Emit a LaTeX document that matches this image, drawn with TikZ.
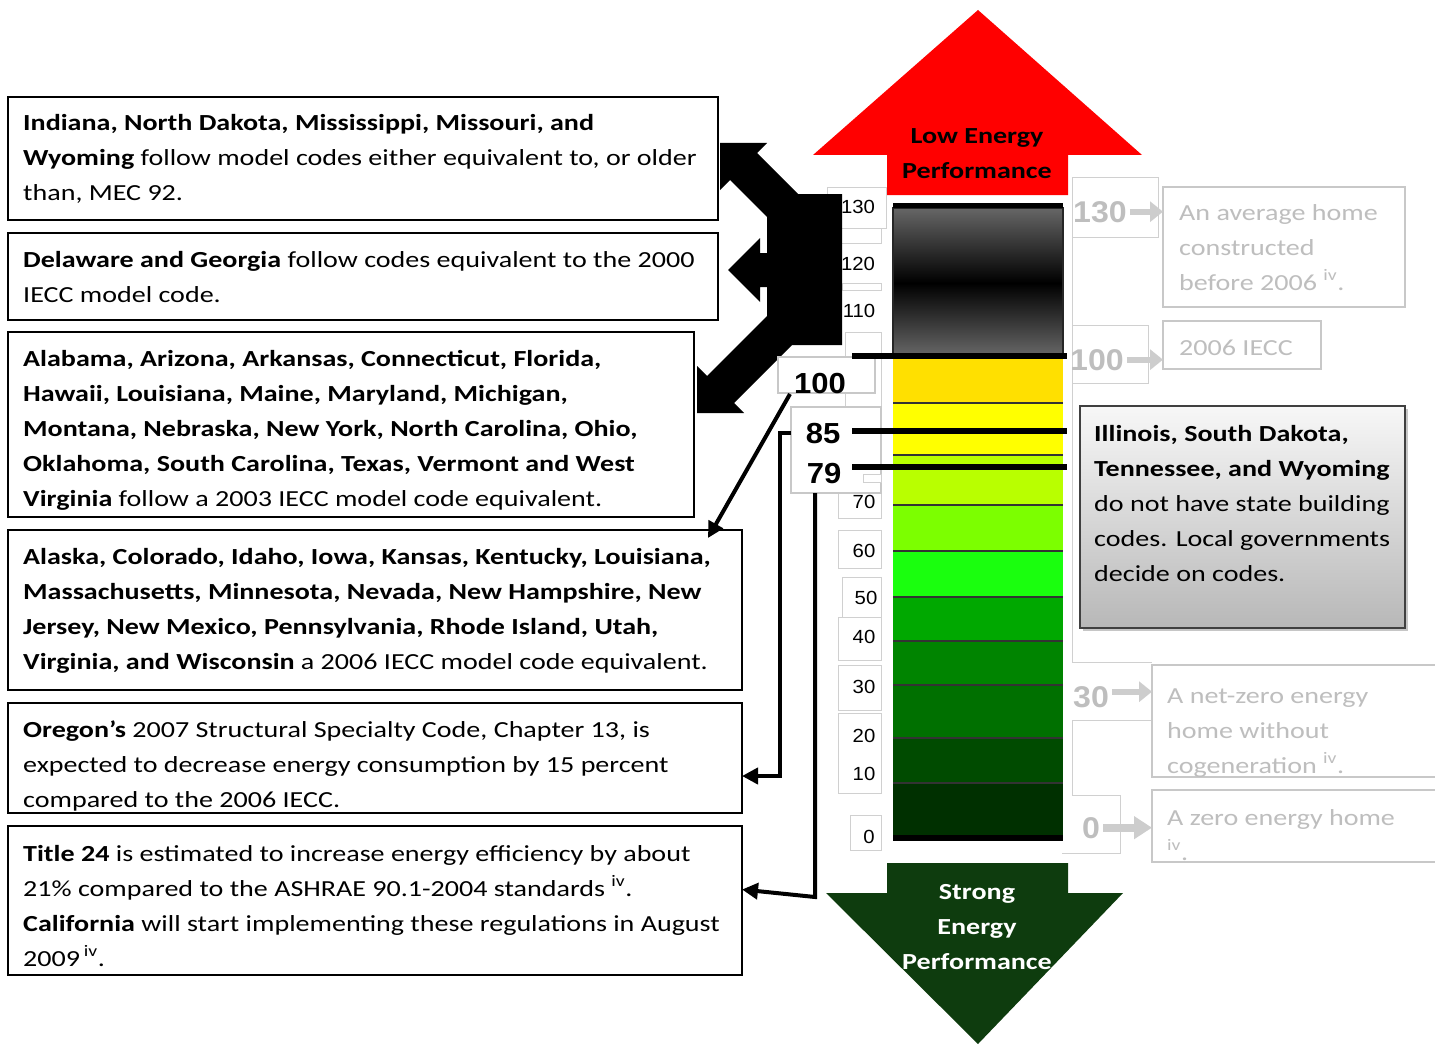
\documentclass[tikz,border=0pt]{standalone}
\usepackage{fontspec}
\setmainfont{Carlito}[FakeStretch=1.22]
\newfontfamily\arialf{Liberation Sans}[FakeStretch=1.07]
\usetikzlibrary{arrows.meta,shadows}
\definecolor{lgray}{RGB}{200,200,200}
\definecolor{olgray}{RGB}{208,208,208}
\definecolor{tgray}{RGB}{190,190,190}
\definecolor{garrowc}{RGB}{205,205,205}
\definecolor{bgold}{RGB}{255,224,0}
\definecolor{byel}{RGB}{255,255,0}
\definecolor{byg}{RGB}{185,255,0}
\definecolor{blime}{RGB}{124,255,0}
\definecolor{bbright}{RGB}{26,255,14}
\definecolor{bga}{RGB}{0,168,0}
\definecolor{bgb}{RGB}{0,132,0}
\definecolor{bgc}{RGB}{0,112,0}
\definecolor{bgd}{RGB}{0,75,0}
\definecolor{bge}{RGB}{0,48,0}
\definecolor{darkgr}{RGB}{14,60,14}
\newcommand{\bodyf}{\fontsize{23}{35}\selectfont}
\tikzset{
  box/.style={draw=black, line width=2.5pt, fill=white, inner sep=0pt, outer sep=0pt, anchor=north west, rectangle},
  txt/.style={anchor=base west, inner sep=0pt, font=\bodyf},
  gbox/.style={draw=lgray, line width=1.2pt, fill=white, inner sep=0pt, outer sep=0pt, anchor=north west, rectangle},
  gtxt/.style={txt, text=tgray},
  scalenum/.style={anchor=base, inner sep=0pt, font=\arialf\fontsize{19}{19}\selectfont},
  bignum/.style={anchor=base, inner sep=0pt, font=\arialf\bfseries\fontsize{29}{29}\selectfont},
  gnum/.style={anchor=base, inner sep=0pt, font=\arialf\bfseries\fontsize{30}{30}\selectfont, text=tgray},
  outl/.style={draw=olgray, line width=1pt},
  conn/.style={line width=4pt, -{Triangle[length=16pt,width=16pt]}},
  garrow/.style={draw=garrowc, line width=6pt, -{Triangle[length=13pt,width=20pt]}},
  levelline/.style={line width=6pt, black},
  sep/.style={line width=1.2pt, black!80}
}
\begin{document}
\begin{tikzpicture}[x=1pt,y=-1pt]
\useasboundingbox (0,0) rectangle (1435,1046);

% --- light gray text-box outlines behind the scale ---
\draw[outl, fill=white] (827,187) rectangle (886,228);
\draw[outl] (832,228) rectangle (881,243);
\draw[outl] (842,283) rectangle (881,290);
\draw[outl] (845,332) rectangle (881,407);
\draw[outl] (838,480) rectangle (881,518);
\draw[outl] (838,530) rectangle (881,568);
\draw[outl] (842,577) rectangle (881,617);
\draw[outl] (838,617) rectangle (881,660);
\draw[outl] (838,665) rectangle (881,710);
\draw[outl] (838,713) rectangle (881,793);
\draw[outl] (850,815) rectangle (881,850);
% right side outlines
\draw[outl] (1072,177) rectangle (1158,237);
\draw[outl] (1072,237) -- (1072,325);
\draw[outl] (1072,325) rectangle (1148,383);
\draw[outl] (1072,383) -- (1072,662) -- (1152,662);
\draw[outl] (1152,720) -- (1072,720) -- (1072,795) -- (1120,795) -- (1120,853) -- (1062,853);

% --- black block with three arrows ---
\fill[black] (720,143) -- (767,143) -- (757,153) -- (798,194) -- (842,194) -- (842,345)
  -- (792,345) -- (734,403) -- (744,413) -- (697,413) -- (697,366) -- (707,376) -- (767,316)
  -- (767,287) -- (760,287) -- (760,302) -- (728,270) -- (760,238) -- (760,253) -- (767,253)
  -- (767,217) -- (730,180) -- (720,190) -- cycle;

% --- label boxes left of the bar ---
\node[gbox, minimum width=97pt, minimum height=36pt] (lb100) at (778,357) {};
\node[gbox, minimum width=90pt, minimum height=86pt] (lb85) at (791,407) {};
\draw[outl, fill=white] (863,474) rectangle (881,482);
\node[bignum] (n100) at (820,393) {100};
\node[bignum] (n85) at (823,443) {85};
\node[bignum] (n79) at (824,483) {79};

% --- scale numbers ---
\node[scalenum] (s130) at (858,213) {130};
\node[scalenum] (s120) at (858,270) {120};
\node[scalenum] (s110) at (859,317) {110};
\node[scalenum] (s70) at (864,508) {70};
\node[scalenum] (s60) at (864,557) {60};
\node[scalenum] (s50) at (866,604) {50};
\node[scalenum] (s40) at (864,643) {40};
\node[scalenum] (s30) at (864,693) {30};
\node[scalenum] (s20) at (864,742) {20};
\node[scalenum] (s10) at (864,780) {10};
\node[scalenum] (s0) at (869,843) {0};

% --- the bar ---
\shade[top color=black!60, bottom color=black] (893,208) rectangle (1063,283);
\shade[top color=black, bottom color=black!60] (893,283) rectangle (1063,355);
\draw[black!85, line width=1.5pt] (893,208) rectangle (1063,355);
\fill[bgold] (893,358) rectangle (1063,403);
\fill[byel] (893,403) rectangle (1063,455);
\fill[byg] (893,455) rectangle (1063,505);
\fill[blime] (893,505) rectangle (1063,551);
\fill[bbright] (893,551) rectangle (1063,597);
\fill[bga] (893,597) rectangle (1063,641);
\fill[bgb] (893,641) rectangle (1063,685);
\fill[bgc] (893,685) rectangle (1063,738);
\fill[bgd] (893,738) rectangle (1063,783);
\fill[bge] (893,783) rectangle (1063,836);
\foreach \yy in {403,455,505,551,597,641,685,738,783}
  \draw[sep] (893,\yy) -- (1063,\yy);
\draw[line width=5pt] (893,205) -- (1063,205);
\draw[line width=6pt] (893,838) -- (1063,838);
\draw[levelline] (852,356) -- (1067,356);
\draw[levelline] (852,431) -- (1067,431);
\draw[levelline] (852,467) -- (1067,467);

% --- big arrows ---
\fill[red] (978,10) -- (1142,155) -- (1068,155) -- (1068,195) -- (887,195) -- (887,155) -- (813,155) -- cycle;
\node[anchor=base, inner sep=0pt, font=\bodyf\bfseries] (lowt) at (977,144)
  {\begin{tabular}[t]{@{}c@{}}Low Energy\\Performance\end{tabular}};
\fill[darkgr] (887,863) -- (1068,863) -- (1068,893) -- (1123,893) -- (978,1044) -- (826,893) -- (887,893) -- cycle;
\node[anchor=base, inner sep=0pt, font=\bodyf\bfseries, text=white] (strongt) at (977,899)
  {\begin{tabular}[t]{@{}c@{}}Strong\\Energy\\Performance\end{tabular}};

% --- left text boxes ---
\node[box, minimum width=710pt, minimum height=123pt] (b1) at (8,97) {};
\node[txt] (t1) at ([shift={(15,34)}]b1.north west) {\begin{tabular}[t]{@{}l@{}}
\textbf{Indiana, North Dakota, Mississippi, Missouri, and}\\
\textbf{Wyoming} follow model codes either equivalent to, or older\\
than, MEC 92.\end{tabular}};
\node[box, minimum width=710pt, minimum height=87pt] (b2) at (8,233) {};
\node[txt] (t2) at ([shift={(15,34)}]b2.north west) {\begin{tabular}[t]{@{}l@{}}
\textbf{Delaware and Georgia} follow codes equivalent to the 2000\\
IECC model code.\end{tabular}};
\node[box, minimum width=686pt, minimum height=185pt] (b3) at (8,332) {};
\node[txt] (t3) at ([shift={(15,34)}]b3.north west) {\begin{tabular}[t]{@{}l@{}}
\textbf{Alabama, Arizona, Arkansas, Connecticut, Florida,}\\
\textbf{Hawaii, Louisiana, Maine, Maryland, Michigan,}\\
\textbf{Montana, Nebraska, New York, North Carolina, Ohio,}\\
\textbf{Oklahoma, South Carolina, Texas, Vermont and West}\\
\textbf{Virginia} follow a 2003 IECC model code equivalent.\end{tabular}};
\node[box, minimum width=734pt, minimum height=160pt] (b4) at (8,530) {};
\node[txt] (t4) at ([shift={(15,34)}]b4.north west) {\begin{tabular}[t]{@{}l@{}}
\textbf{Alaska, Colorado, Idaho, Iowa, Kansas, Kentucky, Louisiana,}\\
\textbf{Massachusetts, Minnesota, Nevada, New Hampshire, New}\\
\textbf{Jersey, New Mexico, Pennsylvania, Rhode Island, Utah,}\\
\textbf{Virginia, and Wisconsin} a 2006 IECC model code equivalent.\end{tabular}};
\node[box, minimum width=734pt, minimum height=110pt] (b5) at (8,703) {};
\node[txt] (t5) at ([shift={(15,34)}]b5.north west) {\begin{tabular}[t]{@{}l@{}}
\textbf{Oregon’s} 2007 Structural Specialty Code, Chapter 13, is\\
expected to decrease energy consumption by 15 percent\\
compared to the 2006 IECC.\end{tabular}};
\node[box, minimum width=734pt, minimum height=149pt] (b6) at (8,826) {};
\node[txt] (t6) at ([shift={(15,35)}]b6.north west) {\begin{tabular}[t]{@{}l@{}}
\textbf{Title 24} is estimated to increase energy efficiency by about\\
21\% compared to the ASHRAE 90.1-2004 standards \textsuperscript{iv}.\\
\textbf{California} will start implementing these regulations in August\\
2009\,\textsuperscript{iv}.\end{tabular}};

% --- black connectors ---
\coordinate (k85) at (780,776);
\coordinate (k79) at (815,897);
\draw[conn] ([shift={(12,1)}]lb100.south west) -- ([shift={(-34,8)}]b4.north east);
\draw[conn] (n85.west -| lb85.west) -| (k85) -- (k85 -| b5.east);
\draw[conn] (lb85.south -| k79) -- (k79) -- ([shift={(0,-11)}]b6.east);

% --- right side ---
\node[gbox, minimum width=242pt, minimum height=120pt] (bA) at (1163,187) {};
\node[gtxt] (tA) at (1179,220) {\begin{tabular}[t]{@{}l@{}}An average home\\constructed\\before 2006 \textsuperscript{iv}.\end{tabular}};
\node[gbox, minimum width=158pt, minimum height=48pt] (bB) at (1163,321) {};
\node[gtxt] (tB) at (1179,355) {2006 IECC};
\node[gbox, minimum width=290pt, minimum height=112pt] (bC) at (1152,665) {};
\node[gtxt] (tC) at (1167,703) {\begin{tabular}[t]{@{}l@{}}A net-zero energy\\home without\\cogeneration \textsuperscript{iv}.\end{tabular}};
\node[gbox, minimum width=290pt, minimum height=72pt] (bD) at (1152,790) {};
\node[gtxt] (tD) at (1167,825) {\begin{tabular}[t]{@{}l@{}}A zero energy home\\\textsuperscript{iv}.\end{tabular}};

\node[gnum] (g130) at (1100,222) {130};
\node[gnum] (g100) at (1097,370) {100};
\node[gnum] (g30) at (1091,707) {30};
\node[gnum] (g0) at (1091,838) {0};
\draw[garrow] ([xshift=3pt]g130.east) -- (g130.east -| bA.west);
\draw[garrow] ([xshift=3pt]g100.east) -- (g100.east -| bB.west);
\draw[garrow] ([shift={(3,-5)}]g30.east) -- ([shift={(0,-5)}]g30.east -| bC.west);
\draw[garrow, line width=8pt, -{Triangle[length=18pt,width=22pt]}] ([xshift=3pt]g0.east) -- (g0.east -| bD.west);

\node[box, draw=black!75, line width=2.5pt, top color=black!3, bottom color=black!28,
  drop shadow={shadow xshift=3pt, shadow yshift=-3pt, opacity=0.45},
  minimum width=325pt, minimum height=222pt] (bE) at (1080,406) {};
\node[txt] (tE) at (1094,441) {\begin{tabular}[t]{@{}l@{}}
\textbf{Illinois, South Dakota,}\\
\textbf{Tennessee, and Wyoming}\\
do not have state building\\
codes. Local governments\\
decide on codes.\end{tabular}};
\end{tikzpicture}
\end{document}
